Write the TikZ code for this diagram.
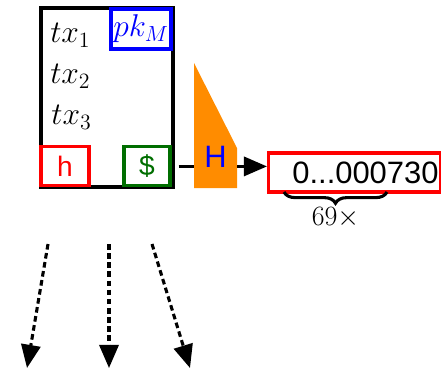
\documentclass[tikz,border=0pt]{standalone}
\usepackage{amsmath,amssymb}
\usepackage{fontspec}
\setsansfont{Liberation Sans}
\usepackage{tikz}
\usetikzlibrary{positioning,arrows.meta,calc,decorations.pathreplacing}
\definecolor{hashorange}{RGB}{255,140,0}
\definecolor{coingreen}{RGB}{0,110,0}
\tikzset{
  blk/.style={line width=2.4pt},
  fld/.style={draw,line width=2.2pt,inner sep=0pt},
  big/.style={font=\fontsize{20.74}{25}\selectfont},
  bigsf/.style={font=\sffamily\fontsize{22}{26}\selectfont},
  smallsf/.style={font=\sffamily\fontsize{20}{24}\selectfont},
  arr/.style={-{Triangle[length=5.8mm,width=4.8mm]},line width=2.2pt},
  dsh/.style={arr,dash pattern=on 4pt off 2.5pt},
  brc/.style={decorate,decoration={brace,amplitude=8pt,mirror},line width=2.2pt},
}
\newcommand{\txm}[1]{\scalebox{1.08}{$#1$}}
\begin{document}
\begin{tikzpicture}
  \useasboundingbox (0,0) rectangle (11.025,-9.425);
  % block
  \draw[blk] (1.025,-0.2) rectangle (4.325,-4.675);
  \node[fld,draw=blue,text=blue,big,minimum width=1.5cm,minimum height=1cm] (pk) at (3.525,-0.725) {\txm{pk_M}};
  \node[big,anchor=west,inner sep=0pt] (tx1) at (1.25,-0.875) {\txm{tx_1}};
  \node[big,anchor=west,inner sep=0pt] (tx2) at (1.25,-1.9) {\txm{tx_2}};
  \node[big,anchor=west,inner sep=0pt] (tx3) at (1.28,-2.925) {\txm{tx_3}};
  \node[fld,draw=red,text=red,smallsf,minimum width=1.2cm,minimum height=0.975cm] (h) at (1.625,-4.16) {h};
  \node[fld,draw=coingreen,text=coingreen,smallsf,minimum width=1.15cm,minimum height=0.975cm] (coin) at (3.675,-4.16) {\$};
  % hash
  \fill[hashorange] (4.85,-1.575) -- (4.85,-4.7) -- (5.925,-4.7) -- (5.925,-3.7) -- cycle;
  \node[bigsf,text=blue,minimum width=1.075cm,minimum height=0.9cm,inner sep=0pt] (hash) at (5.3875,-3.925) {H};
  \node[fld,draw=red,bigsf,anchor=west,minimum height=0.975cm,text width=4.2cm,align=right,inner xsep=0.05cm] (digest) at (6.675,-4.3125) {0...000730};
  \draw[blk,shorten <=0.175cm] (coin.east) -- (coin.east -| hash.west);
  \draw[arr] (hash.east |- coin.east) -- (coin.east -| digest.west);
  \draw[brc] (7.1,-4.8) -- (9.675,-4.8) node[midway,below=10pt,inner sep=0pt,font=\fontsize{17.28}{20}\selectfont] (rep) {\scalebox{1.15}{$69\times$}};
  % outgoing
  \foreach \a/\b [count=\i] in {1.2/0.675, 2.725/2.725, 3.8/4.75} {
    \coordinate (s\i) at (\a,-6.1);
    \coordinate (e\i) at (\b,-9.2);
    \draw[dsh] (s\i) -- (e\i);
  }
\end{tikzpicture}
\end{document}
